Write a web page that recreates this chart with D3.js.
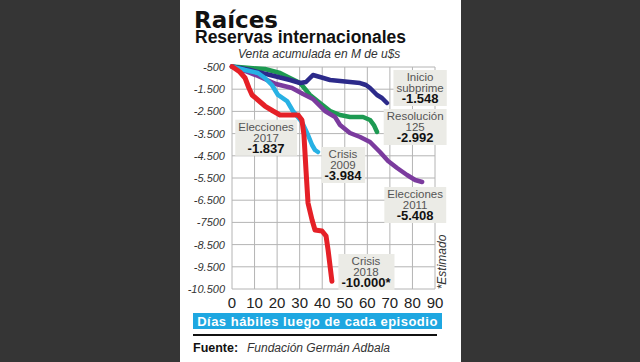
<!DOCTYPE html>
<html><head><meta charset="utf-8">
<script src="https://cdn.jsdelivr.net/npm/d3@7"></script>
<style>
html,body{margin:0;padding:0;background:#353535;}
svg{display:block;}
</style></head>
<body>
<svg id="chart" width="640" height="362"></svg>
<script>
// ---- data ----
const xTicks = [0,10,20,30,40,50,60,70,80,90];
const yTicks = [-500,-1500,-2500,-3500,-4500,-5500,-6500,-7500,-8500,-9500,-10500];
const yTickLabels = ["-500","-1.500","-2.500","-3.500","-4.500","-5.500","-6.500","-7500","-8.500","-9.500","-10.500"];

const subprime2008 = [[0,-480],[8,-635],[16.9,-860],[25.7,-1086],[30.2,-1221],[32.8,-1176],[35.9,-860],[39,-950],[43.5,-1086],[52.3,-1176],[56.8,-1221],[59.4,-1311],[61.2,-1446],[64.3,-1761],[66.5,-1896],[68.7,-2122]];
const resolucion125 = [[0,-480],[8,-545],[14.6,-590],[21.3,-770],[25.7,-995],[30.2,-1221],[34.6,-1761],[39,-2122],[43.5,-2482],[47.9,-2662],[52.3,-2752],[58.1,-2752],[61.2,-2887],[62.9,-3113],[64.3,-3428]];
const elecciones2011 = [[0,-480],[5.8,-680],[11.5,-905],[19.5,-1266],[26.6,-1446],[31.5,-1716],[35.9,-1941],[41.2,-2482],[45.7,-2752],[47.9,-3113],[52.3,-3473],[56.8,-3653],[61.2,-3878],[65.6,-4329],[69.2,-4734],[73.2,-5050],[77.6,-5365],[81.2,-5590],[84.3,-5680]];
const crisis2009 = [[0,-480],[5.8,-635],[11.5,-770],[14.6,-995],[17.7,-1311],[20.4,-1761],[24.4,-2032],[27,-2482],[31,-2977],[33.7,-3563],[35.5,-4014],[36.8,-4239],[38.1,-4329]];
const crisis2018 = [[0,-480],[3.5,-725],[5.8,-995],[7.5,-1446],[8.9,-1761],[11.5,-1986],[14.6,-2257],[18.2,-2482],[21.3,-2662],[29.3,-2662],[31,-2887],[31.9,-3563],[32.8,-5140],[33.7,-6626],[35.5,-7392],[36.8,-7842],[39.9,-7887],[41.7,-8113],[42.6,-8743],[44.3,-10150]];

const seriesNames = ["Inicio subprime","Resolución 125","Elecciones 2011","Crisis 2009","Elecciones 2017","Crisis 2018"];
const labelTitles = [["Inicio","subprime"],["Resolución","125"],["Elecciones","2011"],["Crisis","2009"],["Elecciones","2017"],["Crisis","2018"]];
const labelValues = ["-1.548","-2.992","-5.408","-3.984","-1.837","-10.000*"];

// ---- layout / style ----
const colors = {sub:"#2c2a8a", res:"#1d9a52", e11:"#7b3b9e", c09:"#27b1e4", c18:"#e52027"};
const labelAnchors = [[83.4,-1131],[81.2,-2887],[81.2,-6401],[49.2,-4599],[15.1,-3369],[59.4,-9419]];

const svg = d3.select("#chart");
// white panel
svg.append("rect").attr("x",180).attr("y",0).attr("width",281).attr("height",362).attr("fill","#ffffff");

const x = d3.scaleLinear().domain([0,90]).range([232,435]);
const y = d3.scaleLinear().domain([-500,-10500]).range([67,289]);

// grid
const g = svg.append("g");
g.selectAll("line.v").data(xTicks).join("line")
  .attr("x1",d=>x(d)).attr("x2",d=>x(d)).attr("y1",y(-500)).attr("y2",y(-10500))
  .attr("stroke","#b4b4b4").attr("stroke-width",1);
g.selectAll("line.h").data(yTicks).join("line")
  .attr("x1",x(0)).attr("x2",x(90)).attr("y1",d=>y(d)).attr("y2",d=>y(d))
  .attr("stroke","#b4b4b4").attr("stroke-width",1);

// y tick labels
g.selectAll("text.yt").data(yTicks).join("text")
  .attr("x",225).attr("y",d=>y(d)+4)
  .attr("text-anchor","end")
  .attr("font-family","Liberation Sans, Arial, sans-serif")
  .attr("font-style","italic").attr("font-size",11).attr("fill","#333")
  .text((d,i)=>yTickLabels[i]);

// x tick labels
g.selectAll("text.xt").data(xTicks).join("text")
  .attr("x",d=>x(d)).attr("y",308)
  .attr("text-anchor","middle")
  .attr("font-family","Liberation Sans, Arial, sans-serif")
  .attr("font-size",15).attr("fill","#222")
  .text(d=>d);

// lines
const line = d3.line().x(d=>x(d[0])).y(d=>y(d[1]));
const series = [
  {d:resolucion125, c:colors.res, w:4.5},
  {d:subprime2008, c:colors.sub, w:4.5},
  {d:elecciones2011, c:colors.e11, w:4.5},
  {d:crisis2009, c:colors.c09, w:4.5},
  {d:crisis2018, c:colors.c18, w:5}
];
svg.append("g").selectAll("path").data(series).join("path")
  .attr("d",s=>line(s.d)).attr("fill","none")
  .attr("stroke",s=>s.c).attr("stroke-width",s=>s.w)
  .attr("stroke-linejoin","round").attr("stroke-linecap","round");

// annotations
const ann = svg.append("g");
labelTitles.forEach((t,i)=>{
  const a = labelAnchors[i];
  const cx = x(a[0]), by = y(a[1]);
  const grp = ann.append("g");
  const box = grp.append("rect").attr("fill","#ebebe6");
  t.forEach((s,j)=>{
    grp.append("text").attr("x",cx).attr("y",by+j*11)
      .attr("text-anchor","middle")
      .attr("font-family","Liberation Sans, Arial, sans-serif")
      .attr("font-size",11.5).attr("fill","#555").text(s);
  });
  grp.append("text").attr("x",cx).attr("y",by+22)
    .attr("text-anchor","middle")
    .attr("font-family","Liberation Sans, Arial, sans-serif")
    .attr("font-weight","bold").attr("font-size",13).attr("fill","#111").text(labelValues[i]);
  const bb = grp.node().getBBox();
  box.attr("x",bb.x-3).attr("y",bb.y-1).attr("width",bb.width+6).attr("height",bb.height+1);
});

// *Estimado
svg.append("text").attr("transform","translate(446,262) rotate(-90)")
  .attr("text-anchor","middle")
  .attr("font-family","Liberation Sans, Arial, sans-serif")
  .attr("font-style","italic").attr("font-size",12).attr("fill","#333")
  .text("*Estimado");

// titles
svg.append("text").attr("x",194).attr("y",28)
  .attr("font-family","DejaVu Sans, sans-serif").attr("font-weight","bold")
  .attr("font-size",23).attr("fill","#111").text("Raíces");
svg.append("text").attr("x",195).attr("y",42.5)
  .attr("font-family","Liberation Sans, Arial, sans-serif").attr("font-weight","bold")
  .attr("font-size",17.5).attr("fill","#111").text("Reservas internacionales");
svg.append("text").attr("x",238).attr("y",58)
  .attr("font-family","Liberation Sans, Arial, sans-serif").attr("font-style","italic")
  .attr("font-size",12).attr("fill","#333").text("Venta acumulada en M de u$s");

// blue band
svg.append("rect").attr("x",193).attr("y",313).attr("width",249).attr("height",16).attr("fill","#1ea7e1");
svg.append("text").attr("x",317.5).attr("y",325.5).attr("text-anchor","middle")
  .attr("font-family","Liberation Sans, Arial, sans-serif").attr("font-weight","bold")
  .attr("font-size",13).attr("letter-spacing",0.5).attr("fill","#ffffff")
  .text("Días hábiles luego de cada episodio");

// rule
svg.append("line").attr("x1",193).attr("x2",437).attr("y1",335).attr("y2",335)
  .attr("stroke","#111").attr("stroke-width",2);

// source
svg.append("text").attr("x",193).attr("y",352)
  .attr("font-family","Liberation Sans, Arial, sans-serif").attr("font-weight","bold")
  .attr("font-size",12.5).attr("fill","#111").text("Fuente:");
svg.append("text").attr("x",247).attr("y",352)
  .attr("font-family","Liberation Sans, Arial, sans-serif").attr("font-style","italic")
  .attr("font-size",12).attr("fill","#333").text("Fundación Germán Adbala");
</script>
</body></html>
